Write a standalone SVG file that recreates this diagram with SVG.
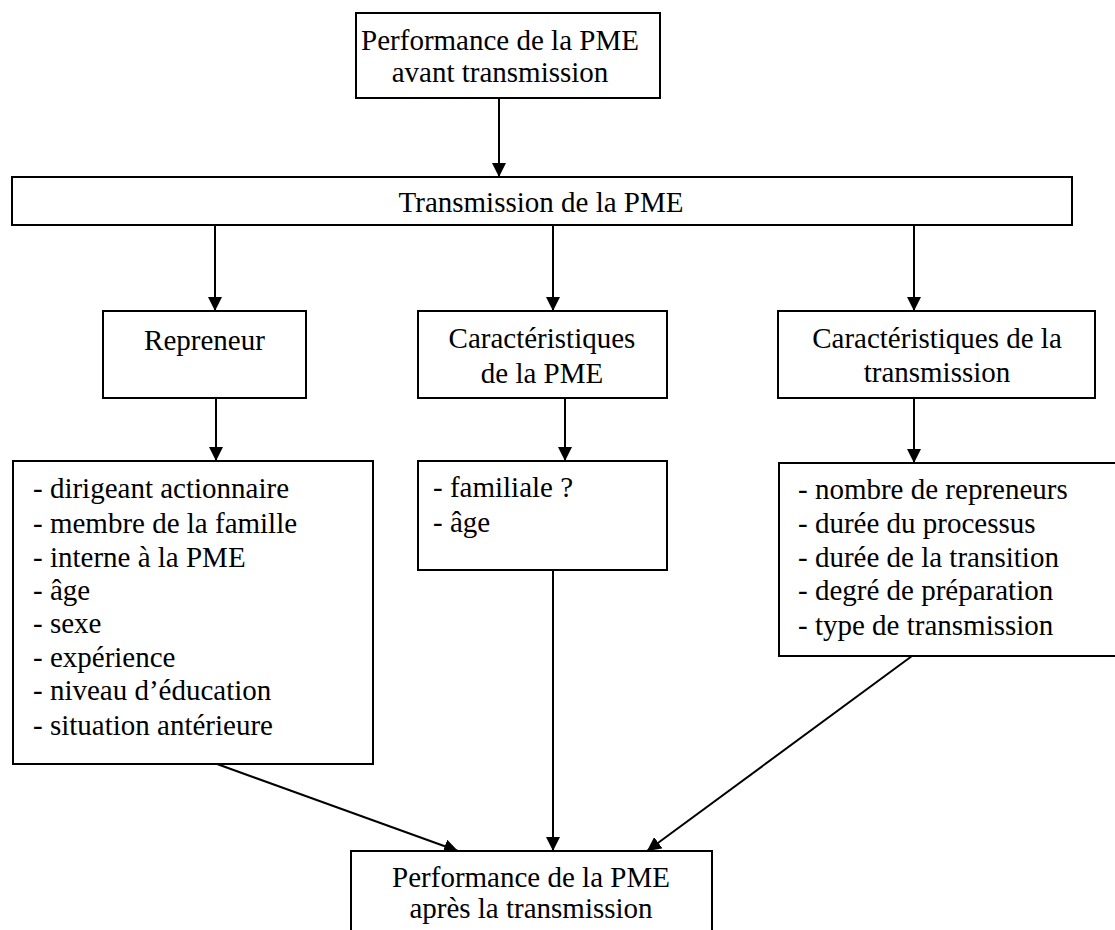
<svg xmlns="http://www.w3.org/2000/svg" width="1115" height="930" viewBox="0 0 1115 930">
<style>
.box{fill:#fff;stroke:#000;stroke-width:2}
.t{font-family:"Liberation Serif","Times New Roman",serif;font-size:29px;fill:#000}
.c{text-anchor:middle}
.con{stroke:#000;stroke-width:2;fill:none;marker-end:url(#ah)}
</style>
<defs>
<marker id="ah" viewBox="0 0 14 14" refX="14" refY="7" markerWidth="14" markerHeight="14" markerUnits="userSpaceOnUse" orient="auto">
<path d="M0,0 L14,7 L0,14 Z" fill="#000"/>
</marker>
</defs>
<rect width="1115" height="930" fill="#fff"/>
<g id="connectors">
<line class="con" x1="499" y1="98" x2="499" y2="177"/>
<line class="con" x1="215" y1="225" x2="215" y2="311"/>
<line class="con" x1="553" y1="225" x2="553" y2="311"/>
<line class="con" x1="914" y1="225" x2="914" y2="311"/>
<line class="con" x1="216" y1="398" x2="216" y2="461"/>
<line class="con" x1="565" y1="398" x2="565" y2="461"/>
<line class="con" x1="914" y1="398" x2="914" y2="463"/>
<line class="con" x1="217" y1="764" x2="458" y2="851"/>
<line class="con" x1="553" y1="570" x2="553" y2="851"/>
<line class="con" x1="912" y1="656" x2="647" y2="851"/>
</g>
<g id="perf-avant">
<rect class="box" x="356" y="13" width="304" height="85"/>
<text class="t c" x="500" y="50">Performance de la PME</text>
<text class="t c" x="500" y="82">avant transmission</text>
</g>
<g id="transmission">
<rect class="box" x="12" y="177" width="1060" height="48"/>
<text class="t c" x="541" y="212">Transmission de la PME</text>
</g>
<g id="repreneur">
<rect class="box" x="103" y="311" width="203" height="87"/>
<text class="t c" x="204.5" y="350">Repreneur</text>
</g>
<g id="carac-pme">
<rect class="box" x="418" y="311" width="249" height="87"/>
<text class="t c" x="542" y="348">Caractéristiques</text>
<text class="t c" x="542" y="383">de la PME</text>
</g>
<g id="carac-transmission">
<rect class="box" x="778" y="311" width="317" height="87"/>
<text class="t c" x="937" y="348">Caractéristiques de la</text>
<text class="t c" x="937" y="382">transmission</text>
</g>
<g id="repreneur-list">
<rect class="box" x="13" y="461" width="360" height="303"/>
<text class="t" x="33" y="498">- dirigeant actionnaire</text>
<text class="t" x="33" y="533">- membre de la famille</text>
<text class="t" x="33" y="567">- interne à la PME</text>
<text class="t" x="33" y="600">- âge</text>
<text class="t" x="33" y="633">- sexe</text>
<text class="t" x="33" y="667">- expérience</text>
<text class="t" x="33" y="700">- niveau d’éducation</text>
<text class="t" x="33" y="735">- situation antérieure</text>
</g>
<g id="pme-list">
<rect class="box" x="418" y="461" width="249" height="109"/>
<text class="t" x="433" y="497">- familiale ?</text>
<text class="t" x="433" y="532">- âge</text>
</g>
<g id="transmission-list">
<rect class="box" x="779" y="463" width="345" height="193"/>
<text class="t" x="798" y="499">- nombre de repreneurs</text>
<text class="t" x="798" y="533">- durée du processus</text>
<text class="t" x="798" y="567">- durée de la transition</text>
<text class="t" x="798" y="600">- degré de préparation</text>
<text class="t" x="798" y="635">- type de transmission</text>
</g>
<g id="perf-apres">
<rect class="box" x="351" y="851" width="361" height="90"/>
<text class="t c" x="531" y="887">Performance de la PME</text>
<text class="t c" x="531" y="918">après la transmission</text>
</g>
</svg>
